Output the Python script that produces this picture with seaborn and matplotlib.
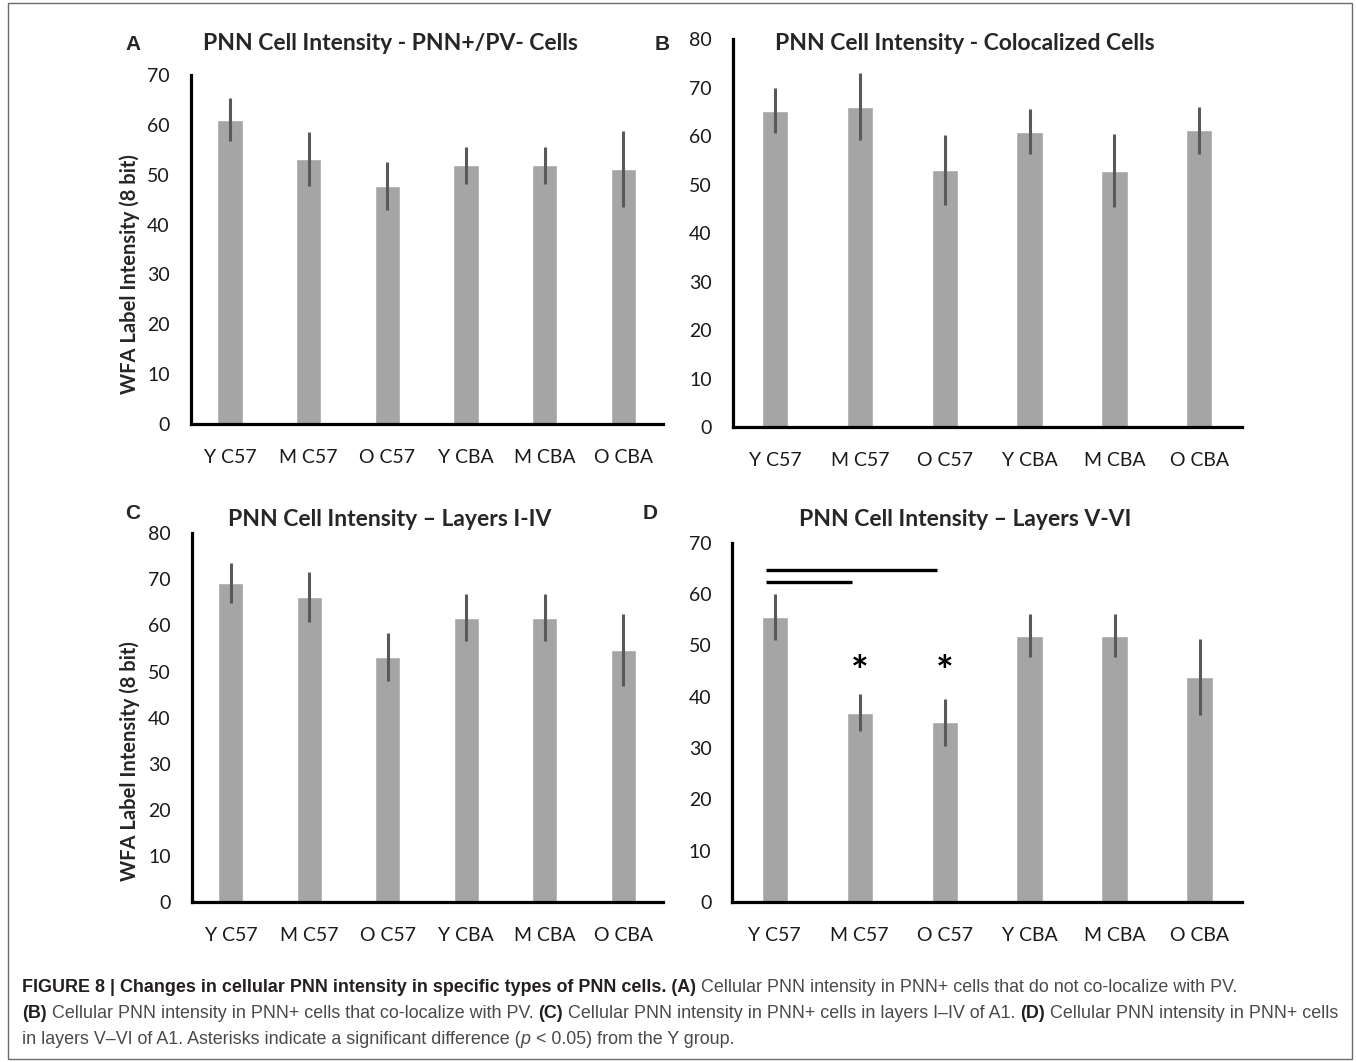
import matplotlib
matplotlib.use("Agg")
import matplotlib.pyplot as plt
import seaborn as sns
from matplotlib.patches import Rectangle

# --- data ---
groups = ["Y C57", "M C57", "O C57", "Y CBA", "M CBA", "O CBA"]

pv_neg_mean = [61.0, 53.1, 47.8, 51.9, 51.9, 51.2]
pv_neg_err = [4.3, 5.4, 4.85, 3.75, 3.75, 7.65]

coloc_mean = [65.3, 66.1, 53.1, 60.9, 52.9, 61.2]
coloc_err = [4.6, 6.85, 7.2, 4.65, 7.6, 4.8]

layers_1_4_mean = [69.2, 66.1, 53.1, 61.7, 61.7, 54.7]
layers_1_4_err = [4.4, 5.4, 5.2, 5.05, 5.05, 7.75]

layers_5_6_mean = [55.5, 36.9, 35.0, 51.9, 51.9, 43.8]
layers_5_6_err = [4.45, 3.65, 4.6, 4.2, 4.2, 7.4]

# significance bars in panel D: (from group, to group, level)
sig_pairs = [(0, 1), (0, 2)]
sig_levels = [62.4, 64.6]
star_groups = [1, 2]
star_level = 44.5

W, H = 1356, 1062
BAR = "#A5A5A5"
ERR = "#595959"

sns.set_style("white")
plt.rcParams["font.family"] = ["Lato", "DejaVu Sans"]

fig = plt.figure(figsize=(W / 100, H / 100), dpi=100)


def rect(l, t, r, b):
    return [l / W, 1 - b / H, (r - l) / W, (b - t) / H]


def fxy(x, y):
    return x / W, 1 - y / H


panels = [
    dict(pos=rect(190.7, 75, 662.7, 424), mean=pv_neg_mean, err=pv_neg_err,
         ymax=70, width=0.32, title="PNN Cell Intensity - PNN+/PV- Cells",
         tpos=(390, 43), letter="A", lpos=(133, 44), ylab=274),
    dict(pos=rect(732.7, 39.3, 1241.7, 427), mean=coloc_mean, err=coloc_err,
         ymax=80, width=0.31, title="PNN Cell Intensity - Colocalized Cells",
         tpos=(965, 43), letter="B", lpos=(662, 44), ylab=None),
    dict(pos=rect(191.7, 533.3, 662.5, 902), mean=layers_1_4_mean, err=layers_1_4_err,
         ymax=80, width=0.32, title="PNN Cell Intensity \u2013 Layers I-IV",
         tpos=(390, 519), letter="C", lpos=(133, 514), ylab=761),
    dict(pos=rect(732.3, 542.7, 1242, 902), mean=layers_5_6_mean, err=layers_5_6_err,
         ymax=70, width=0.31, title="PNN Cell Intensity \u2013 Layers V-VI",
         tpos=(965, 519), letter="D", lpos=(650, 514), ylab=None),
]

axes = []
for p in panels:
    ax = fig.add_axes(p["pos"])
    sns.barplot(x=groups, y=p["mean"], color=BAR, saturation=1, width=p["width"],
                errorbar=None, ax=ax)
    centers = [b.get_x() + b.get_width() / 2 for b in ax.patches]
    ax.errorbar(centers, p["mean"], yerr=p["err"], fmt="none", ecolor=ERR,
                elinewidth=2.2, capsize=0)
    ax.set_xlim(-0.5, 5.5)
    ax.set_ylim(0, p["ymax"])
    ax.set_yticks(range(0, p["ymax"] + 1, 10))
    for s in ["top", "right"]:
        ax.spines[s].set_visible(False)
    for s in ["left", "bottom"]:
        ax.spines[s].set_linewidth(2.3)
        ax.spines[s].set_color("black")
    ax.tick_params(axis="y", length=0, pad=15, labelsize=14, labelcolor="#1a1a1a")
    ax.tick_params(axis="x", length=0, pad=18, labelsize=14, labelcolor="#1a1a1a")
    ax.set_xlabel("")
    ax.set_ylabel("")
    fig.text(*fxy(*p["tpos"]), p["title"], ha="center", va="center",
             fontsize=16.5, fontweight="bold")
    fig.text(*fxy(*p["lpos"]), p["letter"], ha="center", va="center",
             fontsize=15, fontweight="bold", family="Liberation Sans")
    if p["ylab"] is not None:
        fig.text(*fxy(130, p["ylab"]), "WFA Label Intensity (8 bit)", rotation=90,
                 ha="center", va="center", fontsize=14.5, fontweight="bold")
    axes.append(ax)

# significance annotations in panel D
axd = axes[3]
bars = axd.patches
for (a, b), lvl in zip(sig_pairs, sig_levels):
    x0 = bars[a].get_x() + 0.047
    x1 = bars[b].get_x() + 0.06
    axd.plot([x0, x1], [lvl, lvl], color="black", lw=2.4, solid_capstyle="butt")
for g in star_groups:
    c = bars[g].get_x() + bars[g].get_width() / 2
    axd.text(c, star_level, "*", ha="center", va="center", fontsize=30,
             fontweight="bold", color="black")

# caption
cap_size = 12.9
renderer = fig.canvas.get_renderer()


def text_width(s, **kw):
    t = fig.text(0, 0, s, fontsize=cap_size, family="Liberation Sans", **kw)
    w = t.get_window_extent(renderer).width
    t.remove()
    return w


space_w = text_width("a a") - text_width("aa")

caption = [
    (988, [("FIGURE 8 | Changes in cellular PNN intensity in specific types of PNN cells. (A)", "bold", "normal"),
           ("Cellular PNN intensity in PNN+ cells that do not co-localize with PV.", "normal", "normal")]),
    (1014, [("(B)", "bold", "normal"),
            ("Cellular PNN intensity in PNN+ cells that co-localize with PV.", "normal", "normal"),
            ("(C)", "bold", "normal"),
            ("Cellular PNN intensity in PNN+ cells in layers I\u2013IV of A1.", "normal", "normal"),
            ("(D)", "bold", "normal"),
            ("Cellular PNN intensity in PNN+ cells", "normal", "normal")]),
    (1040, [("in layers V\u2013VI of A1. Asterisks indicate a significant difference (", "normal", "normal"),
            ("p", "normal", "italic"),
            ("< 0.05) from the Y group.", "normal", "normal")]),
]
for y, segs in caption:
    x = 22.0
    for s, wgt, sty in segs:
        col = "#231F20" if wgt == "bold" else "#4a4a4a"
        t = fig.text(*fxy(x, y), s, ha="left", va="center", fontsize=cap_size,
                     family="Liberation Sans", fontweight=wgt, fontstyle=sty, color=col)
        x += t.get_window_extent(renderer).width
        # no space between "(" and p
        if not s.endswith("("):
            x += space_w

# outer frame
fig.patches.append(Rectangle((8 / W, 1 - 1059 / H), (1352 - 8) / W, (1059 - 3) / H,
                             transform=fig.transFigure, fill=False,
                             edgecolor="#6b6b6b", lw=1.0))

fig.savefig("out.png", dpi=100)
